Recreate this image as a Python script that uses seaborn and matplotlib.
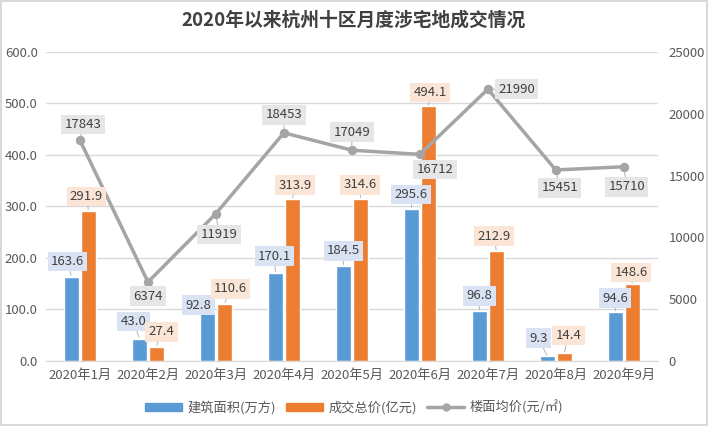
import numpy as np
import pandas as pd
import matplotlib
matplotlib.use("Agg")
import matplotlib.pyplot as plt
import seaborn as sns
from matplotlib.lines import Line2D
from matplotlib.patches import Patch

# --- Données ---
months = ["2020年1月", "2020年2月", "2020年3月", "2020年4月", "2020年5月",
          "2020年6月", "2020年7月", "2020年8月", "2020年9月"]
area = [163.6, 43.0, 92.8, 170.1, 184.5, 295.6, 96.8, 9.3, 94.6]       # 建筑面积(万方)
total = [291.9, 27.4, 110.6, 313.9, 314.6, 494.1, 212.9, 14.4, 148.6]  # 成交总价(亿元)
price = [17843, 6374, 11919, 18453, 17049, 16712, 21990, 15451, 15710]  # 楼面均价(元/㎡)

s_area = "建筑面积(万方)"
s_total = "成交总价(亿元)"
s_price = "楼面均价(元/㎡)"

df = pd.DataFrame({
    "month": months * 2,
    "serie": [s_area] * len(months) + [s_total] * len(months),
    "valeur": area + total,
})

# décalages des étiquettes (pixels)
off_area = [(-4, 15), (-6, 17), (-9, 8), (-1, 17), (0, 15), (0, 14), (0, 15), (-9, 18), (0, 14)]
off_total = [(-2, 14), (5, 15), (6, 15), (3, 14), (0, 14), (2, 14), (-2, 15), (4, 18), (-1, 12)]
off_price = [(3, 16), (0, -14), (3, -21), (0, 18), (0, 18), (15, -15), (29, 0), (4, -18), (3, -20)]

blue, orange, grey = "#5b9bd5", "#ed7d31", "#a5a5a5"
txt = "#404040"

sns.set_style("white")
plt.rcParams["font.family"] = ["Noto Sans CJK SC", "DejaVu Sans"]

fig = plt.figure(figsize=(7.08, 4.26), dpi=100)
fig.patch.set_edgecolor("#d9d9d9")
fig.patch.set_linewidth(1.5)
ax = fig.add_axes([0.065, 0.153, 0.864, 0.725])

sns.barplot(data=df, x="month", y="valeur", hue="serie", palette=[blue, orange],
            width=0.5, gap=0.12, ax=ax, legend=False, saturation=1)
ax.set_ylim(0, 600)
ax.set_yticks(np.arange(0, 601, 100))
ax.set_yticklabels([f"{v:.1f}" for v in np.arange(0, 601, 100)])
ax.yaxis.grid(True, color="#d9d9d9", lw=1)
ax.set_axisbelow(True)
ax.set_xlabel("")
ax.set_ylabel("")
for sp in ["left", "right", "top"]:
    ax.spines[sp].set_visible(False)
ax.spines["bottom"].set_color("#d9d9d9")
ax.tick_params(axis="both", length=0, labelsize=9.5, colors="#595959", pad=6)

ax2 = ax.twinx()
sns.lineplot(x=np.arange(len(months)), y=price, ax=ax2, color=grey, lw=2.5,
             marker="o", markersize=6, markeredgecolor=grey)
ax2.set_ylim(0, 25000)
ax2.set_yticks(np.arange(0, 25001, 5000))
ax2.set_xlim(-0.5, len(months) - 0.5)
for sp in ax2.spines.values():
    sp.set_visible(False)
ax2.tick_params(axis="y", length=0, labelsize=9.5, colors="#595959", pad=8)

lead = dict(arrowstyle="-", color="#a6a6a6", lw=0.6, shrinkA=0, shrinkB=1)

# étiquettes des barres
for cont, offs, bg in [(ax.containers[0], off_area, "#dae3f3"),
                       (ax.containers[1], off_total, "#fbe5d6")]:
    for bar, off in zip(cont, offs):
        xc = bar.get_x() + bar.get_width() / 2
        h = bar.get_height()
        ax2.annotate(f"{h:.1f}", xy=(xc, h), xycoords=ax.transData,
                     xytext=off, textcoords="offset pixels",
                     ha="center", va="center", fontsize=9.5, color=txt,
                     bbox=dict(boxstyle="square,pad=0.25", fc=bg, ec="none"),
                     arrowprops=lead, zorder=5)

# étiquettes de la courbe
for i, (v, off) in enumerate(zip(price, off_price)):
    ax2.annotate(f"{v}", xy=(i, v), xytext=off, textcoords="offset pixels",
                 ha="center", va="center", fontsize=9.5, color=txt,
                 bbox=dict(boxstyle="square,pad=0.25", fc="#e7e6e6", ec="none"),
                 arrowprops=lead, zorder=5)

fig.suptitle("2020年以来杭州十区月度涉宅地成交情况", y=0.975, fontsize=13.5,
             fontweight="bold", color=txt)

handles = [Patch(color=blue, label=s_area), Patch(color=orange, label=s_total),
           Line2D([], [], color=grey, lw=2.5, marker="o", markersize=5, label=s_price)]
fig.legend(handles=handles, loc="center", bbox_to_anchor=(0.5, 0.043), ncol=3,
           frameon=False, fontsize=9.5, handlelength=2.8, handleheight=0.6,
           columnspacing=0.8, handletextpad=0.4, labelcolor="#595959")

fig.savefig("out.png", dpi=100)
